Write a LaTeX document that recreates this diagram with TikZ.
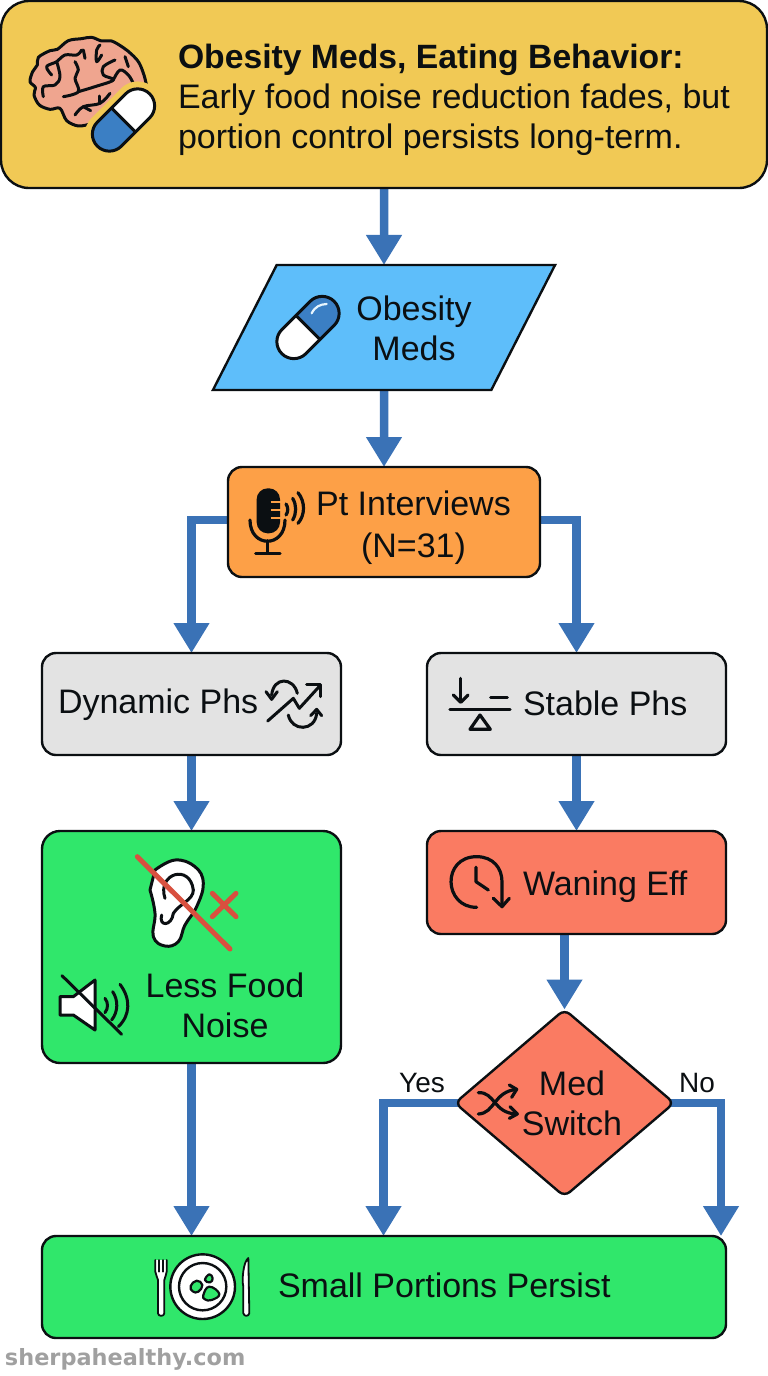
\documentclass[tikz,border=0pt]{standalone}
\usepackage{fontspec}
\setmainfont{Liberation Sans}
\newfontfamily\wmfont{DejaVu Sans}
\usetikzlibrary{arrows.meta,shapes.geometric,backgrounds}
\definecolor{titlefill}{HTML}{F1C955}
\definecolor{medsfill}{HTML}{5EBEFA}
\definecolor{ptfill}{HTML}{FDA047}
\definecolor{grayfill}{HTML}{E3E3E3}
\definecolor{greenfill}{HTML}{30E76B}
\definecolor{redfill}{HTML}{FA7B62}
\definecolor{flow}{HTML}{3A72B6}
\definecolor{slash}{HTML}{D8503F}
\definecolor{brainfill}{HTML}{EFA58F}
\definecolor{pillblue}{HTML}{3B7FC4}
\definecolor{ink}{HTML}{0B0F12}
\definecolor{wm}{HTML}{A0A0A0}
\newcommand{\capsule}[5]{% x y angle leftcolor rightcolor
 \begin{scope}[shift={(#1,#2)},rotate=#3]
  \begin{scope}\clip (-40,-20) rectangle (0,20);
   \fill[#4,rounded corners=17] (-37,-17) rectangle (37,17);\end{scope}
  \begin{scope}\clip (0,-20) rectangle (40,20);
   \fill[#5,rounded corners=17] (-37,-17) rectangle (37,17);\end{scope}
  \draw[ink,line width=3pt,rounded corners=17] (-37,-17) rectangle (37,17);
  \draw[ink,line width=3pt] (0,-17) -- (0,17);
 \end{scope}}
\tikzset{
 x=1pt,y=-1pt,
 boxbase/.style={draw=ink,line width=2.4pt,rectangle,rounded corners=14,inner sep=0pt,outer sep=0pt},
 txt/.style={inner sep=0pt,outer sep=0pt,text=ink,font=\fontsize{34}{40}\selectfont,align=center},
 flowline/.style={draw=flow,line width=8.5pt,-{Triangle[length=30pt,width=34pt]}},
 icon/.style={draw=ink,line width=3pt,line cap=round,line join=round},
 zz/.style 2 args={shift={(#1,#2)},x=.33333pt,y=-.33333pt}
}
\begin{document}
\begin{tikzpicture}
\useasboundingbox (0,0) rectangle (768,1376);
% boxes
\node[boxbase,fill=titlefill,rounded corners=28,minimum width=766,minimum height=187] (title) at (384,94.5) {};
\node[draw=ink,line width=2.4pt,fill=medsfill,trapezium,trapezium stretches=true,trapezium left angle=73.46,trapezium right angle=106.54,minimum width=342,minimum height=125,inner sep=0pt,outer sep=0pt] (meds) at (384,327.5) {\phantom{\rule{1pt}{1pt}}};
\node[boxbase,fill=ptfill,minimum width=312,minimum height=110] (pt) at (384,522) {};
\node[boxbase,fill=grayfill,minimum width=299,minimum height=102] (dyn) at (191.5,704) {};
\node[boxbase,fill=grayfill,minimum width=299,minimum height=102] (stab) at (576.5,704) {};
\node[boxbase,fill=greenfill,rounded corners=18,minimum width=299,minimum height=232] (less) at (191.5,947) {};
\node[boxbase,fill=redfill,minimum width=299,minimum height=103] (wane) at (576.5,882.5) {};
\node[draw=ink,line width=2.4pt,fill=redfill,diamond,rounded corners=7,aspect=1.173,minimum width=219,minimum height=187,inner sep=0pt,outer sep=0pt] (sw) at (564.5,1103) {};
\node[boxbase,fill=greenfill,minimum width=684,minimum height=102] (small) at (384,1287) {};
% connectors
\begin{scope}[on background layer]
\coordinate (yesdrop) at (383.5,1236);
\coordinate (nodrop) at (721,1236);
\draw[flowline] (title.south) -- (meds.north);
\draw[flowline] (meds.south) -- (pt.north);
\draw[flowline] ([yshift=2pt]pt.west) -| (dyn.north);
\draw[flowline] ([yshift=2pt]pt.east) -| (stab.north);
\draw[flowline] (dyn.south) -- (less.north);
\draw[flowline] (stab.south) -- (wane.north);
\draw[flowline] (wane.south -| sw.north) -- (sw.north);
\draw[flowline] ([xshift=10pt]sw.west) -| (yesdrop);
\draw[flowline] ([xshift=-10pt]sw.east) -| (nodrop);
\draw[flowline] (less.south) -- (less.south |- small.north);
\end{scope}
% texts
\node[txt,anchor=west,align=left] (ttext) at (178,100) {{\fontsize{33.7}{40}\selectfont\textbf{Obesity Meds, Eating Behavior:}}\\Early food noise reduction fades, but\\portion control persists long-term.};
\node[txt] (tmeds) at (414,328) {Obesity\\Meds};
\node[txt,font=\fontsize{34}{42}\selectfont] (tpt) at (413.5,528) {Pt Interviews\\(N=31)};
\node[txt,anchor=west] (tdyn) at (58,705) {Dynamic Phs};
\node[txt,anchor=west] (tstab) at (523,703.5) {Stable Phs};
\node[txt] (tless) at (225,1005) {Less Food\\Noise};
\node[txt,anchor=west] (twane) at (523,887) {Waning Eff};
\node[txt] (tsw) at (572,1103) {Med\\Switch};
\node[txt,anchor=west] (tsmall) at (278,1285.5) {Small Portions Persist};
\node[txt,font=\fontsize{28}{30}\selectfont] (tyes) at (422,1083) {Yes};
\node[txt,font=\fontsize{28}{30}\selectfont] (tno) at (697,1083) {No};
\node[inner sep=0pt,outer sep=0pt,text=wm,font=\wmfont\bfseries\fontsize{22.4}{24}\selectfont,anchor=west] (wmark) at (5,1359) {sherpahealthy.com};
% brain
\begin{scope}[zz={0}{0}]
\filldraw[fill=brainfill,draw=ink,line width=3pt,line join=round] plot[smooth,tension=.55] coordinates {(270,372)(235,378)(200,362)(180,325)(150,328)(118,315)(102,285)(106,262)(90,245)(98,215)(112,195)(115,172)(150,152)(172,148)(205,122)(245,116)(275,112)(305,123)(335,123)(370,143)(395,163)(417,188)(432,225)(440,258)} -- cycle;
\foreach \pts in {
 {(245,150)(230,165)(195,165)(170,185)(140,200)(155,225)},
 {(170,185)(180,230)(165,255)(130,260)(130,290)},
 {(225,185)(235,210)(225,235)(235,275)(190,290)},
 {(250,150)(255,175)},
 {(300,135)(290,150)(290,185)(305,165)},
 {(345,180)(310,200)(310,225)(340,240)(285,260)(235,275)},
 {(340,240)(360,210)(385,225)(400,250)},
 {(375,170)(385,200)},
 {(225,345)(250,320)(300,310)(330,280)},
 {(250,320)(272,332)},
 {(300,288)(300,310)}}
 {\draw[icon] plot[smooth,tension=.6] coordinates \pts;}
\end{scope}
\begin{scope}[shift={(123.5,120)},rotate=45]
\draw[titlefill,line width=6pt,rounded corners=20] (-41,-21) rectangle (41,21);
\end{scope}
\capsule{123.5}{120}{45}{pillblue}{white}
% meds pill
\capsule{308}{327.5}{45}{white}{pillblue}
\begin{scope}[zz={230}{270}]
\draw[white!85!medsfill,line width=2.2pt,line cap=round] (245,130) .. controls (255,110) and (270,103) .. (290,102);
\end{scope}
% mic
\begin{scope}[zz={230}{270}]
\fill[ink,rounded corners=11] (80,655) rectangle (150,790);
\foreach \y in {695,720,745} \draw[ptfill,line width=2pt] (122,\y) -- (152,\y);
\draw[icon,line width=3.2pt] (60,750) .. controls (60,835) and (165,835) .. (165,750);
\draw[icon,line width=3.2pt] (113,812) -- (113,850);
\draw[icon,line width=3.2pt] (77,850) -- (150,850);
\draw[icon,line width=3.2pt] (168,702) .. controls (175,712) and (175,725) .. (168,735);
\draw[icon,line width=3.2pt] (188,685) .. controls (200,705) and (200,730) .. (188,750);
\draw[icon,line width=3.2pt] (204,668) .. controls (226,695) and (226,735) .. (204,760);
\end{scope}
% dynamic
\begin{scope}[zz={40}{650}]
\draw[icon] (683,213) -- (760,145) -- (778,175) -- (840,107);
\draw[icon] (800,103) -- (842,103) -- (842,140);
\draw[icon] (772,130) .. controls (760,80) and (700,80) .. (695,135);
\draw[icon] (678,125) -- (695,148) -- (712,125);
\draw[icon] (745,195) .. controls (755,245) and (825,245) .. (830,190);
\draw[icon] (812,197) -- (830,178) -- (845,197);
\end{scope}
% ear
\begin{scope}[zz={40}{650}]
\filldraw[fill=white,icon] plot[smooth,tension=.7] coordinates {(345,660)(405,630)(465,650)(490,700)(470,770)(435,825)(415,875)(375,888)(340,860)(345,790)(330,720)} -- cycle;
\draw[icon] (375,745) .. controls (350,670) and (450,640) .. (460,720);
\draw[icon] (460,720) .. controls (460,750) and (420,760) .. (400,790);
\draw[icon] (365,795) .. controls (355,830) and (395,830) .. (400,790);
\draw[slash,line width=5pt,line cap=round] (292,620) -- (570,897);
\draw[slash,line width=5pt,line cap=round] (517,730) -- (588,800);
\draw[slash,line width=5pt,line cap=round] (588,730) -- (517,800);
\end{scope}
% speaker
\begin{scope}[zz={40}{650}]
\filldraw[fill=white,icon] (60,1040) -- (100,1040) -- (165,990) -- (165,1140) -- (100,1095) -- (60,1095) -- cycle;
\draw[icon] (195,1045) .. controls (205,1058) and (205,1075) .. (195,1088);
\draw[icon] (218,1025) .. controls (235,1050) and (235,1085) .. (215,1110);
\draw[icon] (240,1003) .. controls (272,1045) and (272,1095) .. (235,1130);
\draw[icon] (66,977) -- (245,1153);
\end{scope}
% balance
\begin{scope}[zz={430}{650}]
\draw[icon,line width=3.2pt] (92,85) -- (92,155);
\draw[icon,line width=3.2pt] (70,135) -- (92,157) -- (114,135);
\draw[icon,line width=3.2pt] (182,143) -- (232,143);
\draw[icon,line width=3.2pt] (60,178) -- (240,178);
\draw[icon,line width=3.2pt] (120,238) -- (150,195) -- (181,238) -- cycle;
\end{scope}
% clock
\begin{scope}[zz={430}{650}]
\draw[icon,line width=3.2pt] (140,772) .. controls (40,772) and (35,620) .. (140,620) .. controls (190,620) and (216,655) .. (216,695) -- (216,770);
\draw[icon,line width=3.2pt] (190,745) -- (216,770) -- (238,745);
\draw[icon,line width=3.2pt] (138,652) -- (138,695) -- (175,720);
\end{scope}
% shuffle
\begin{scope}[zz={380}{1000}]
\draw[icon,line width=3.2pt] (295,278) .. controls (345,275) and (340,340) .. (410,342);
\draw[icon,line width=3.2pt] (295,342) .. controls (345,340) and (340,275) .. (410,268);
\draw[icon,line width=3.2pt] (388,255) -- (410,268) -- (395,292);
\draw[icon,line width=3.2pt] (390,320) -- (412,342) -- (388,355);
\end{scope}
% plate and cutlery
\begin{scope}[zz={0}{1230}]
\filldraw[fill=white,icon,line width=2.4pt] (608,170) circle[radius=97];
\draw[icon,line width=2.4pt] (608,170) circle[radius=71];
\filldraw[fill=greenfill,icon,line width=2.2pt] plot[smooth cycle,tension=.8] coordinates {(572,168)(590,152)(607,165)(595,185)(578,184)};
\filldraw[fill=greenfill,icon,line width=2.2pt] plot[smooth cycle,tension=.8] coordinates {(615,150)(628,133)(638,145)(630,157)};
\filldraw[fill=greenfill,icon,line width=2.2pt] plot[smooth cycle,tension=.8] coordinates {(610,195)(628,170)(658,192)(635,210)(615,208)};
\filldraw[fill=white,icon,line width=1.8pt] (466,90) -- (466,125) .. controls (466,135) and (473,140) .. (474,150) -- (474,250) .. controls (475,260) and (492,260) .. (493,250) -- (493,150) .. controls (494,140) and (500,135) .. (500,125) -- (500,90);
\draw[icon,line width=1.8pt] (478,90) -- (478,125) (489,90) -- (489,125);
\filldraw[fill=white,icon,line width=1.8pt] (745,84) .. controls (730,95) and (725,150) .. (730,170) -- (730,250) .. controls (733,260) and (745,260) .. (748,250) -- cycle;
\end{scope}
\end{tikzpicture}
\end{document}
